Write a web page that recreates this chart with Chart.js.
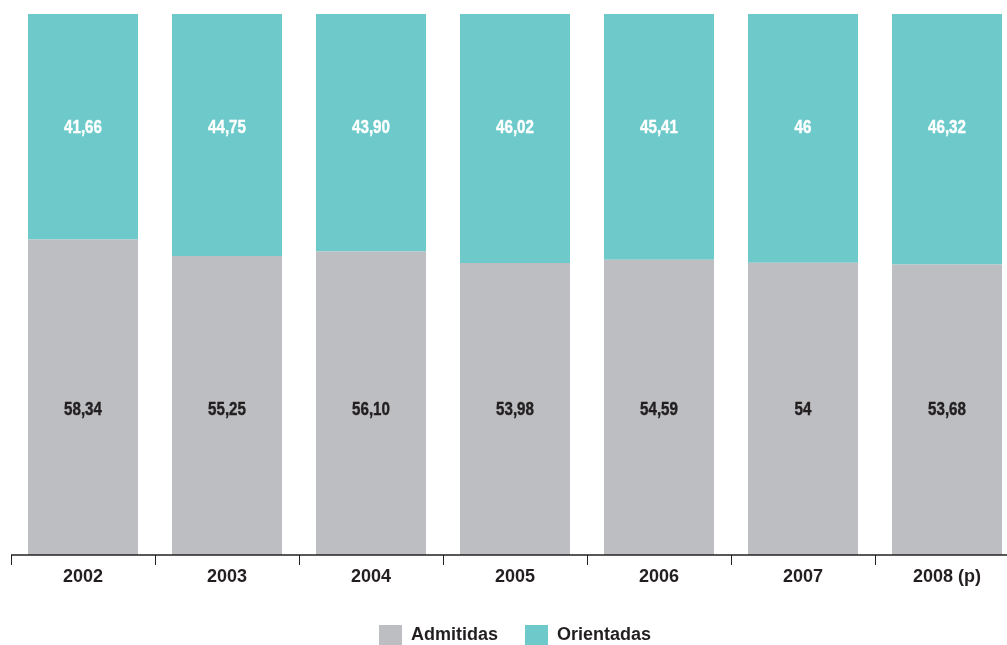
<!DOCTYPE html>
<html>
<head>
<meta charset="utf-8">
<script src="https://cdn.jsdelivr.net/npm/chart.js@4/dist/chart.umd.min.js"></script>
<style>
  body { margin: 0; overflow: hidden; background: #fff; }
  #wrap { width: 1030px; height: 655px; }
</style>
</head>
<body>
<div id="wrap"><canvas id="myChart"></canvas></div>
<script>
const years = ["2002", "2003", "2004", "2005", "2006", "2007", "2008 (p)"];
const admitidas = [58.34, 55.25, 56.10, 53.98, 54.59, 54, 53.68];
const orientadas = [41.66, 44.75, 43.90, 46.02, 45.41, 46, 46.32];

const dark = "#231F20";

function fmt(v) {
    return Number.isInteger(v) ? String(v) : v.toFixed(2).replace(".", ",");
}

// value labels at a fixed height inside each segment + axis line on top of bars
const labelPlugin = {
    id: "barLabels",
    afterDatasetsDraw(chart) {
        const ctx = chart.ctx;
        const yScale = chart.scales.y;
        const xScale = chart.scales.x;
        const spots = [26.8, 78.9];
        const colors = [dark, "#ffffff"];
        chart.data.datasets.forEach(function (ds, i) {
            const meta = chart.getDatasetMeta(i);
            meta.data.forEach(function (bar, j) {
                ctx.save();
                ctx.font = "bold 18px 'Liberation Sans', Arial";
                ctx.textAlign = "center";
                ctx.textBaseline = "middle";
                ctx.fillStyle = colors[i];
                ctx.translate(bar.x, yScale.getPixelForValue(spots[i]));
                ctx.scale(0.84, 1);
                ctx.fillText(fmt(ds.data[j]), 0, 0);
                ctx.lineWidth = 0.4;
                ctx.strokeStyle = colors[i];
                ctx.strokeText(fmt(ds.data[j]), 0, 0);
                ctx.restore();
            });
        });
        const y0 = yScale.getPixelForValue(0);
        ctx.save();
        ctx.strokeStyle = dark;
        ctx.lineWidth = 1.5;
        ctx.beginPath();
        ctx.moveTo(xScale.left, y0);
        ctx.lineTo(xScale.right, y0);
        ctx.stroke();
        ctx.restore();
    }
};

const ctx = document.getElementById("myChart").getContext("2d");
const myChart = new Chart(ctx, {
    type: "bar",
    data: {
        labels: years,
        datasets: [
            { label: "Admitidas", data: admitidas, backgroundColor: "#BDBEC1" },
            { label: "Orientadas", data: orientadas, backgroundColor: "#6ECACA" }
        ]
    },
    options: {
        responsive: true,
        maintainAspectRatio: false,
        animation: false,
        layout: { padding: { top: 14, left: 11, right: 11, bottom: 0 } },
        datasets: { bar: { categoryPercentage: 1, barPercentage: 0.764 } },
        scales: {
            x: {
                stacked: true,
                afterFit: function (scale) { scale.height = 43; },
                grid: {
                    offset: true,
                    drawOnChartArea: false,
                    drawTicks: true,
                    tickLength: 10,
                    color: dark,
                    lineWidth: 1
                },
                border: { display: false },
                ticks: {
                    color: dark,
                    padding: 1,
                    font: { family: "'Liberation Sans', Arial", size: 18, weight: "bold" }
                }
            },
            y: { stacked: true, display: false, min: 0, max: 100 }
        },
        plugins: {
            tooltip: { enabled: false },
            legend: {
                position: "bottom",
                labels: {
                    boxWidth: 23,
                    boxHeight: 20,
                    padding: 27,
                    color: dark,
                    font: { family: "'Liberation Sans', Arial", size: 18, weight: "bold" }
                }
            }
        }
    },
    plugins: [labelPlugin]
});
</script>
</body>
</html>
